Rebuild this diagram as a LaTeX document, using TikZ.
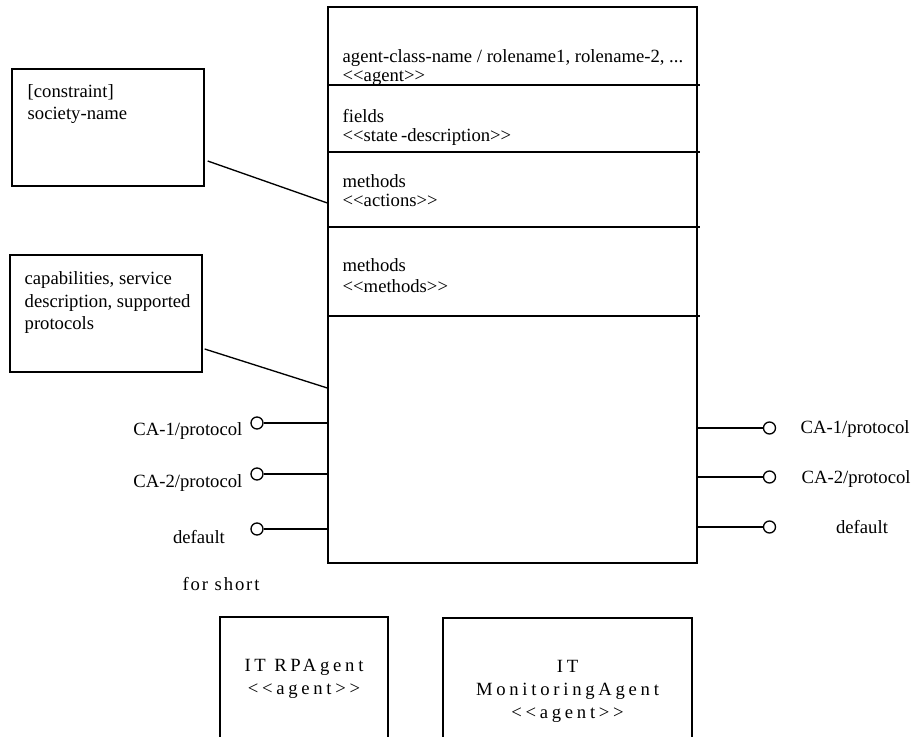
\documentclass[tikz,border=0pt]{standalone}
\usepackage{fontspec}
\setmainfont{Liberation Serif}
\newcommand{\stereo}[1]{<{}<#1>{}>}
\begin{document}
\begin{tikzpicture}[x=0.75pt, y=-0.75pt, line width=1pt,
    every node/.style={font=\fontsize{14}{17}\selectfont, inner sep=0pt},
    txt/.style={anchor=base west, align=left},
    note/.style={draw, minimum width=144pt, minimum height=87.75pt},
    port/.style={draw, circle, minimum size=9pt, fill=white},
    spaced/.style={font=\fontsize{14}{17}\selectfont\addfontfeature{LetterSpace=20}, align=center},
    shortbox/.style={draw, spaced}]
    \useasboundingbox (0,0) rectangle (916,737);
    \clip (0,0) rectangle (916,737);
    % Agent class
    \node[draw, minimum width=276.75pt, minimum height=417pt] (agent) at (512.5,285) {};
    \foreach \y in {85,152,227,316}
        \draw (agent.west |- 0,\y) -- (agent.east |- 0,\y) -- ++(2,0);
    \node[txt] (name) at (342,63) {agent-class-name / rolename1, rolename-2, ...};
    \node[txt] (namest) at (342,82) {\stereo{agent}};
    \node[txt] (fields) at (342,123) {fields};
    \node[txt] (fieldsst) at (342,142) {\stereo{state\,-description}};
    \node[txt] (actions) at (342,188) {methods};
    \node[txt] (actionsst) at (342,207) {\stereo{actions}};
    \node[txt] (methods) at (342,272) {methods};
    \node[txt] (methodsst) at (342,293) {\stereo{methods}};
    % Notes
    \node[note] (constraint) at (108,127.5) {};
    \node[txt] (constrainttxt) at (27,120) {[constraint]\\society-name};
    \node[note] (caps) at (106,313.5) {};
    \node[txt] (capstxt) at (24,330) {capabilities, service\\description, supported\\protocols};
    % Ports
    \node[port] (l1) at (257,423) {};
    \node[port] (l2) at (257,474) {};
    \node[port] (l3) at (257,529) {};
    \node[anchor=base east] (l1txt) at (243,435) {CA-1/protocol};
    \node[anchor=base east] (l2txt) at (243,487) {CA-2/protocol};
    \node[anchor=base] (l3txt) at (199,543) {default};
    \node[port] (r1) at (769.5,428) {};
    \node[port] (r2) at (769.5,477) {};
    \node[port] (r3) at (769.5,527) {};
    \node[anchor=base west] (r1txt) at (800,433) {CA-1/protocol};
    \node[anchor=base west] (r2txt) at (801,483) {CA-2/protocol};
    \node[anchor=base] (r3txt) at (862,533) {default};
    % Short forms
    \node[spaced, anchor=base west, font=\fontsize{14}{17}\selectfont\addfontfeature{LetterSpace=10}] (short) at (182,590) {for short};
    \node[shortbox, minimum width=126pt, minimum height=93pt] (rpa) at (304,679) {IT RPAgent\\\stereo{agent}};
    \node[shortbox, minimum width=186.75pt, minimum height=110.25pt] (mon) at (567.5,691.5) {IT\\MonitoringAgent\\\stereo{agent}};
    % Edges
    \draw ([shift={(3,33.5)}]constraint.east) -- (agent.west |- 0,203);
    \draw ([shift={(2,35.5)}]caps.east) -- (agent.west |- 0,388);
    \draw (l1) -- (agent.west |- l1);
    \draw (l2) -- (agent.west |- l2);
    \draw (l3) -- (agent.west |- l3);
    \draw (agent.east |- r1) -- (r1);
    \draw (agent.east |- r2) -- (r2);
    \draw (agent.east |- r3) -- (r3);
\end{tikzpicture}
\end{document}
